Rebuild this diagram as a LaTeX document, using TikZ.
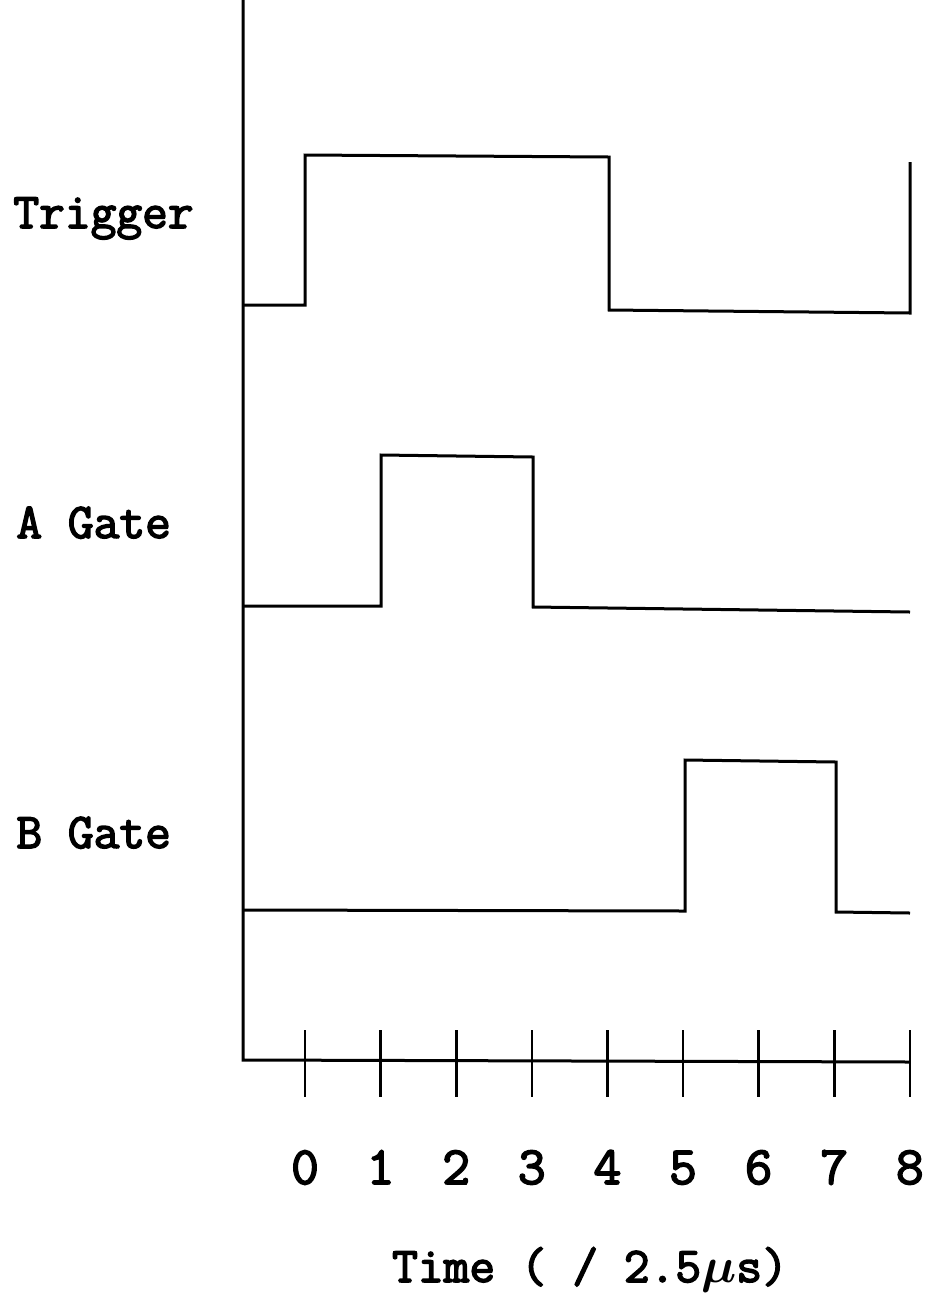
\documentclass[tikz,border=0pt]{standalone}
\usepackage{fontspec}
\usepackage{bm}
\newfontfamily\lblfont{Latin Modern Mono}[FakeBold=3]
\tikzset{
  wave/.style={line width=1.5pt, line join=miter},
  axisline/.style={line width=1.5pt},
  tickmark/.style={line width=1.3pt},
  lbl/.style={font=\fontsize{25}{30}\selectfont\lblfont, inner sep=0pt},
  num/.style={font=\fontsize{27}{30}\selectfont\lblfont, inner sep=0pt}
}
\begin{document}
\begin{tikzpicture}[x=0.5pt,y=-0.5pt]
\useasboundingbox (0,0) rectangle (930,1297);
% axes
\coordinate (top) at (243,0);
\coordinate (origin) at (243,1060);
\coordinate (xend) at (910,1062);
\draw[axisline] (top) -- (origin) -- (xend);
% ticks and labels
\foreach \i in {0,...,8}{
  \pgfmathsetmacro{\xx}{305+\i*75.6}
  \coordinate (t\i a) at (\xx,1030);
  \coordinate (t\i b) at (\xx,1097);
  \draw[tickmark] (t\i a) -- (t\i b);
  \node[num, anchor=base] (n\i) at (\xx,1184) {\i};
}
% signal labels
\node[lbl, anchor=base west] (trig) at (13,228) {Trigger};
\node[lbl, anchor=base west] (agate) at (16,538) {A Gate};
\node[lbl, anchor=base west] (bgate) at (16,848) {B Gate};
\node[lbl, anchor=base] (time) at (590,1282) {Time ( / 2.5$\bm{\mu}$s)};
% waveforms
\draw[wave] (243,305) -- (305,305) -- (305,155) -- (609,157) -- (609,310) -- (910,313) -- (910,162);
\draw[wave] (243,606) -- (381,606) -- (381,455) -- (533,457) -- (533,607) -- (910,612);
\draw[wave] (243,910) -- (685,911) -- (685,760) -- (836,762) -- (836,912) -- (910,913);
\end{tikzpicture}
\end{document}
